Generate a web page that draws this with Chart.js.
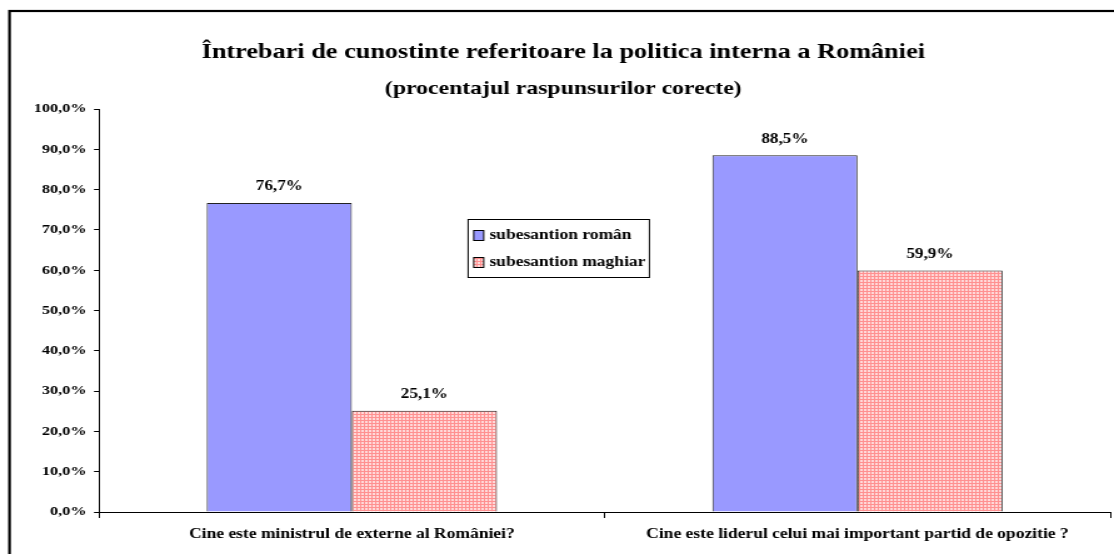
<!DOCTYPE html>
<html>
<head>
<meta charset="utf-8">
<script src="https://cdn.jsdelivr.net/npm/chart.js@4/dist/chart.umd.min.js"></script>
<style>
  html, body { margin: 0; padding: 0; background: #fff; }
  #wrap { width: 1114px; height: 554px; position: relative; overflow: hidden; }
</style>
</head>
<body>
<div id="wrap">
  <!-- the original figure is a Times chart stretched wide, so the canvas is drawn narrower and scaled up -->
  <canvas id="barChart" width="891" height="554" style="width:1114px;height:554px"></canvas>
</div>
<script>
const questions = [
  'Cine este ministrul de externe al României?',
  'Cine este liderul celui mai important partid de opozitie ?'
];
const seriesNames = ['subesantion român', 'subesantion maghiar'];
const romanValues = [76.7, 88.5];
const maghiarValues = [25.1, 59.9];
const yTicks = [0, 10, 20, 30, 40, 50, 60, 70, 80, 90, 100];

const serif = "'Liberation Serif', 'Times New Roman', serif";

// dotted pink fill like the Excel pattern
function makePattern() {
  const c = document.createElement('canvas');
  c.width = 3; c.height = 3;
  const g = c.getContext('2d');
  g.fillStyle = '#ffd9d9';
  g.fillRect(0, 0, 3, 3);
  g.fillStyle = '#ff9090';
  g.fillRect(0, 0, 3, 1);
  g.fillRect(0, 0, 1, 3);
  return g.createPattern(c, 'repeat');
}
const pinkFill = makePattern();

const fmt = v => v.toFixed(1).replace('.', ',') + '%';

const frame = {
  id: 'frame',
  beforeDraw(chart) {
    const ctx = chart.ctx;
    ctx.save();
    ctx.fillStyle = '#fff';
    ctx.fillRect(0, 0, chart.width, chart.height);
    ctx.strokeStyle = '#000';
    ctx.lineWidth = 2.2;
    ctx.strokeRect(7.6, 11, chart.width + 20, chart.height + 20);
    ctx.restore();
  }
};

const valueLabels = {
  id: 'valueLabels',
  afterDatasetsDraw(chart) {
    const ctx = chart.ctx;
    ctx.save();
    ctx.font = 'bold 13.7px ' + serif;
    ctx.fillStyle = '#000';
    ctx.textAlign = 'center';
    ctx.textBaseline = 'middle';
    chart.data.datasets.forEach((ds, i) => {
      chart.getDatasetMeta(i).data.forEach((bar, j) => {
        ctx.fillText(fmt(ds.data[j]), bar.x, bar.y - 16);
      });
    });
    ctx.restore();
  }
};

// legend box sitting inside the plot like the original
const boxLegend = {
  id: 'boxLegend',
  afterDraw(chart) {
    const ctx = chart.ctx;
    const x = 374.4, y = 219, w = 145, h = 58;
    ctx.save();
    ctx.fillStyle = '#fff';
    ctx.fillRect(x, y, w, h);
    ctx.strokeStyle = '#000';
    ctx.lineWidth = 1;
    ctx.strokeRect(x, y + 0.5, w, h);
    ctx.font = 'bold 14px ' + serif;
    ctx.textBaseline = 'middle';
    chart.data.datasets.forEach((ds, i) => {
      const cy = y + 16 + i * 27;
      ctx.fillStyle = ds.backgroundColor;
      ctx.fillRect(x + 4.5, cy - 5, 8, 10);
      ctx.strokeStyle = '#000';
      ctx.strokeRect(x + 4.5, cy - 4.5, 8, 10);
      ctx.fillStyle = '#000';
      ctx.fillText(ds.label, x + 17, cy);
    });
    ctx.restore();
  }
};

new Chart(document.getElementById('barChart'), {
  type: 'bar',
  data: {
    labels: questions,
    datasets: [
      {
        label: seriesNames[0],
        data: romanValues,
        backgroundColor: '#9999ff',
        borderColor: '#222',
        borderWidth: 1,
        borderSkipped: 'bottom'
      },
      {
        label: seriesNames[1],
        data: maghiarValues,
        backgroundColor: pinkFill,
        borderColor: '#222',
        borderWidth: 1,
        borderSkipped: 'bottom'
      }
    ]
  },
  options: {
    responsive: false,
    animation: false,
    devicePixelRatio: 1,
    layout: { padding: { left: 13, right: 3, top: 0, bottom: 0 } },
    datasets: {
      bar: { categoryPercentage: 0.574, barPercentage: 1 }
    },
    plugins: {
      legend: { display: false },
      tooltip: { enabled: false },
      title: {
        display: true,
        text: 'Întrebari de cunostinte referitoare la politica interna a României',
        color: '#000',
        font: { family: serif, size: 21, weight: 'bold' },
        padding: { top: 40, bottom: 0 }
      },
      subtitle: {
        display: true,
        text: '(procentajul raspunsurilor corecte)',
        color: '#000',
        font: { family: serif, size: 19, weight: 'bold' },
        padding: { top: 12, bottom: 9 }
      }
    },
    scales: {
      x: {
        grid: {
          display: true,
          drawOnChartArea: false,
          offset: true,
          color: '#000',
          tickLength: 6
        },
        border: { color: '#000', width: 1 },
        ticks: {
          color: '#000',
          padding: 8,
          maxRotation: 0,
          font: { family: serif, size: 14, weight: 'bold' }
        },
        afterFit(scale) { scale.height = 42; }
      },
      y: {
        min: 0,
        max: 100,
        grid: {
          display: true,
          drawOnChartArea: false,
          color: '#000',
          tickLength: 4
        },
        border: { color: '#000', width: 1 },
        afterBuildTicks(scale) { scale.ticks = yTicks.map(v => ({ value: v })); },
        ticks: {
          color: '#000',
          padding: 6,
          font: { family: serif, size: 13, weight: 'bold' },
          callback: v => fmt(v)
        },
        afterFit(scale) { scale.width = 66.2; }
      }
    }
  },
  plugins: [frame, valueLabels, boxLegend]
});
</script>
</body>
</html>
